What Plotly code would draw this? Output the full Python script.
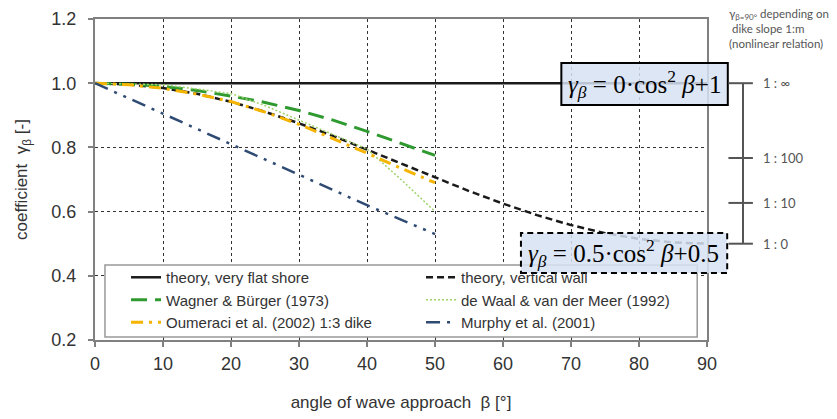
import plotly.graph_objects as go

# ---------------- data ----------------
beta_flat = [0, 90]
gamma_flat = [1.0, 1.0]

beta_wall = [0, 5, 10, 15, 20, 25, 30, 35, 40, 45, 50, 55, 60, 65, 70, 75, 80, 85, 90]
gamma_wall = [1.0, 0.996, 0.985, 0.967, 0.942, 0.911, 0.875, 0.836, 0.793, 0.75,
              0.707, 0.664, 0.625, 0.589, 0.558, 0.533, 0.515, 0.504, 0.50]

beta_wagner = [0, 5, 10, 15, 20, 25, 30, 35, 40, 45, 50]
gamma_wagner = [1.0, 0.997, 0.99, 0.977, 0.96, 0.94, 0.915, 0.885, 0.85, 0.812, 0.775]

beta_dewaal = [0, 10, 20, 25, 30, 35, 40, 45, 50]
gamma_dewaal = [1.0, 0.995, 0.968, 0.93, 0.885, 0.84, 0.795, 0.70, 0.60]

beta_oumeraci = [0, 5, 10, 15, 20, 25, 30, 35, 40, 45, 50]
gamma_oumeraci = [1.0, 0.995, 0.984, 0.966, 0.943, 0.91, 0.872, 0.828, 0.782, 0.735, 0.69]

beta_murphy = [0, 10, 20, 30, 40, 50]
gamma_murphy = [1.0, 0.905, 0.81, 0.717, 0.62, 0.53]

slope_labels = ["1 : \u221e", "1 : 100", "1 : 10", "1 : 0"]
slope_values = [1.0, 0.767, 0.627, 0.50]

x_ticks = [0, 10, 20, 30, 40, 50, 60, 70, 80, 90]
y_ticks = [0.2, 0.4, 0.6, 0.8, 1.0, 1.2]

# ---------------- figure ----------------
fig = go.Figure()

fig.add_trace(go.Scatter(x=beta_flat, y=gamma_flat, mode="lines",
                         name="theory, very flat shore",
                         line=dict(color="#1a1a1a", width=2.5)))
fig.add_trace(go.Scatter(x=beta_wall, y=gamma_wall, mode="lines",
                         name="theory, vertical wall",
                         line=dict(color="#1a1a1a", width=2.5, dash="7px,4px")))
fig.add_trace(go.Scatter(x=beta_wagner, y=gamma_wagner, mode="lines",
                         name="Wagner & Bürger (1973)",
                         line=dict(color="#2f9a2f", width=3, dash="16px,8px")))
fig.add_trace(go.Scatter(x=beta_dewaal, y=gamma_dewaal, mode="lines",
                         name="de Waal & van der Meer (1992)",
                         line=dict(color="#9fd36a", width=1.5, dash="2px,2px")))
fig.add_trace(go.Scatter(x=beta_oumeraci, y=gamma_oumeraci, mode="lines",
                         name="Oumeraci et al. (2002) 1:3 dike",
                         line=dict(color="#f5b400", width=3, dash="12px,6px,3px,6px")))
fig.add_trace(go.Scatter(x=beta_murphy, y=gamma_murphy, mode="lines",
                         name="Murphy et al. (2001)",
                         line=dict(color="#2f4b73", width=2.5, dash="14px,7px,3px,7px,3px,7px")))

axis_common = dict(
    showline=True, mirror=True, linecolor="#808080", linewidth=2,
    ticks="outside", ticklen=5, tickcolor="#808080", tickwidth=1.5,
    showgrid=True, gridcolor="#333333", gridwidth=1, griddash="dot",
    zeroline=False, automargin=False,
    tickfont=dict(family="Liberation Sans, Arial", size=18, color="#333333"),
)

fig.update_xaxes(range=[0, 90], tickvals=x_ticks, ticklabelstandoff=1,
                 title=dict(text="angle of wave approach  \u03b2 [\u00b0]", standoff=24,
                            font=dict(family="Liberation Sans, Arial", size=17, color="#333333")),
                 **axis_common)
fig.update_yaxes(range=[0.2, 1.2], tickvals=y_ticks, tickformat=".1f", ticklabelstandoff=8,
                 title=dict(text="coefficient  \u03b3<sub>\u03b2</sub> [-]", standoff=19,
                            font=dict(family="Liberation Sans, Arial", size=17, color="#333333")),
                 **axis_common)

# legend frame (white box behind the legend entries)
fig.add_shape(type="rect", xref="paper", yref="paper", x0=0.0163, x1=0.984, y0=0.0093, y1=0.234,
              line=dict(color="#999999", width=1.5), fillcolor="white", layer="above")

# formula boxes
fig.add_shape(type="rect", xref="paper", yref="paper", x0=0.762, x1=1.034, y0=0.732, y1=0.863,
              line=dict(color="black", width=2), fillcolor="rgba(214,226,243,0.85)", layer="above")
fig.add_shape(type="rect", xref="paper", yref="paper", x0=0.696, x1=1.033, y0=0.209, y1=0.333,
              line=dict(color="black", width=2, dash="6px,4px"), fillcolor="rgba(214,226,243,0.85)",
              layer="above")
fig.add_annotation(xref="paper", yref="paper", x=0.898, y=0.797, showarrow=False,
                   xanchor="center", yanchor="middle",
                   text="<i>\u03b3</i><sub><i>\u03b2</i></sub> = 0\u00b7cos<sup>2</sup> <i>\u03b2</i>+1",
                   font=dict(family="Liberation Serif, Times New Roman", size=25, color="black"))
fig.add_annotation(xref="paper", yref="paper", x=0.864, y=0.271, showarrow=False,
                   xanchor="center", yanchor="middle",
                   text="<i>\u03b3</i><sub><i>\u03b2</i></sub> = 0.5\u00b7cos<sup>2</sup> <i>\u03b2</i>+0.5",
                   font=dict(family="Liberation Serif, Times New Roman", size=25, color="black"))

# right-hand slope scale
fig.add_shape(type="line", xref="paper", yref="y", x0=1.0588, x1=1.0588,
              y0=min(slope_values), y1=max(slope_values), line=dict(color="#555555", width=2))
for lab, val in zip(slope_labels, slope_values):
    fig.add_shape(type="line", xref="paper", yref="y", x0=1.035, x1=1.075, y0=val, y1=val,
                  line=dict(color="#555555", width=2))
    fig.add_annotation(xref="paper", yref="y", x=1.088, y=val, xanchor="left", showarrow=False,
                       text=lab, font=dict(family="Lato, Liberation Sans", size=13, color="#555555"))

fig.add_annotation(xref="paper", yref="paper", x=1.032, y=1.045, xanchor="left", yanchor="top",
                   align="left", showarrow=False,
                   text="\u03b3<sub>\u03b2=90\u00b0</sub> depending on<br> dike slope 1:m<br>(nonlinear relation)",
                   font=dict(family="Lato, Liberation Sans", size=11.5, color="#555555"))

fig.update_layout(
    width=829, height=411,
    margin=dict(l=87, r=130, t=11, b=79, autoexpand=False),
    plot_bgcolor="white", paper_bgcolor="white",
    legend=dict(orientation="h", x=0.0507, y=0.246, xanchor="left", yanchor="top",
                entrywidth=250, entrywidthmode="pixels", traceorder="normal",
                bgcolor="rgba(0,0,0,0)", borderwidth=0,
                font=dict(family="Liberation Sans, Arial", size=15, color="#333333")),
)

fig.write_html("out.html")
